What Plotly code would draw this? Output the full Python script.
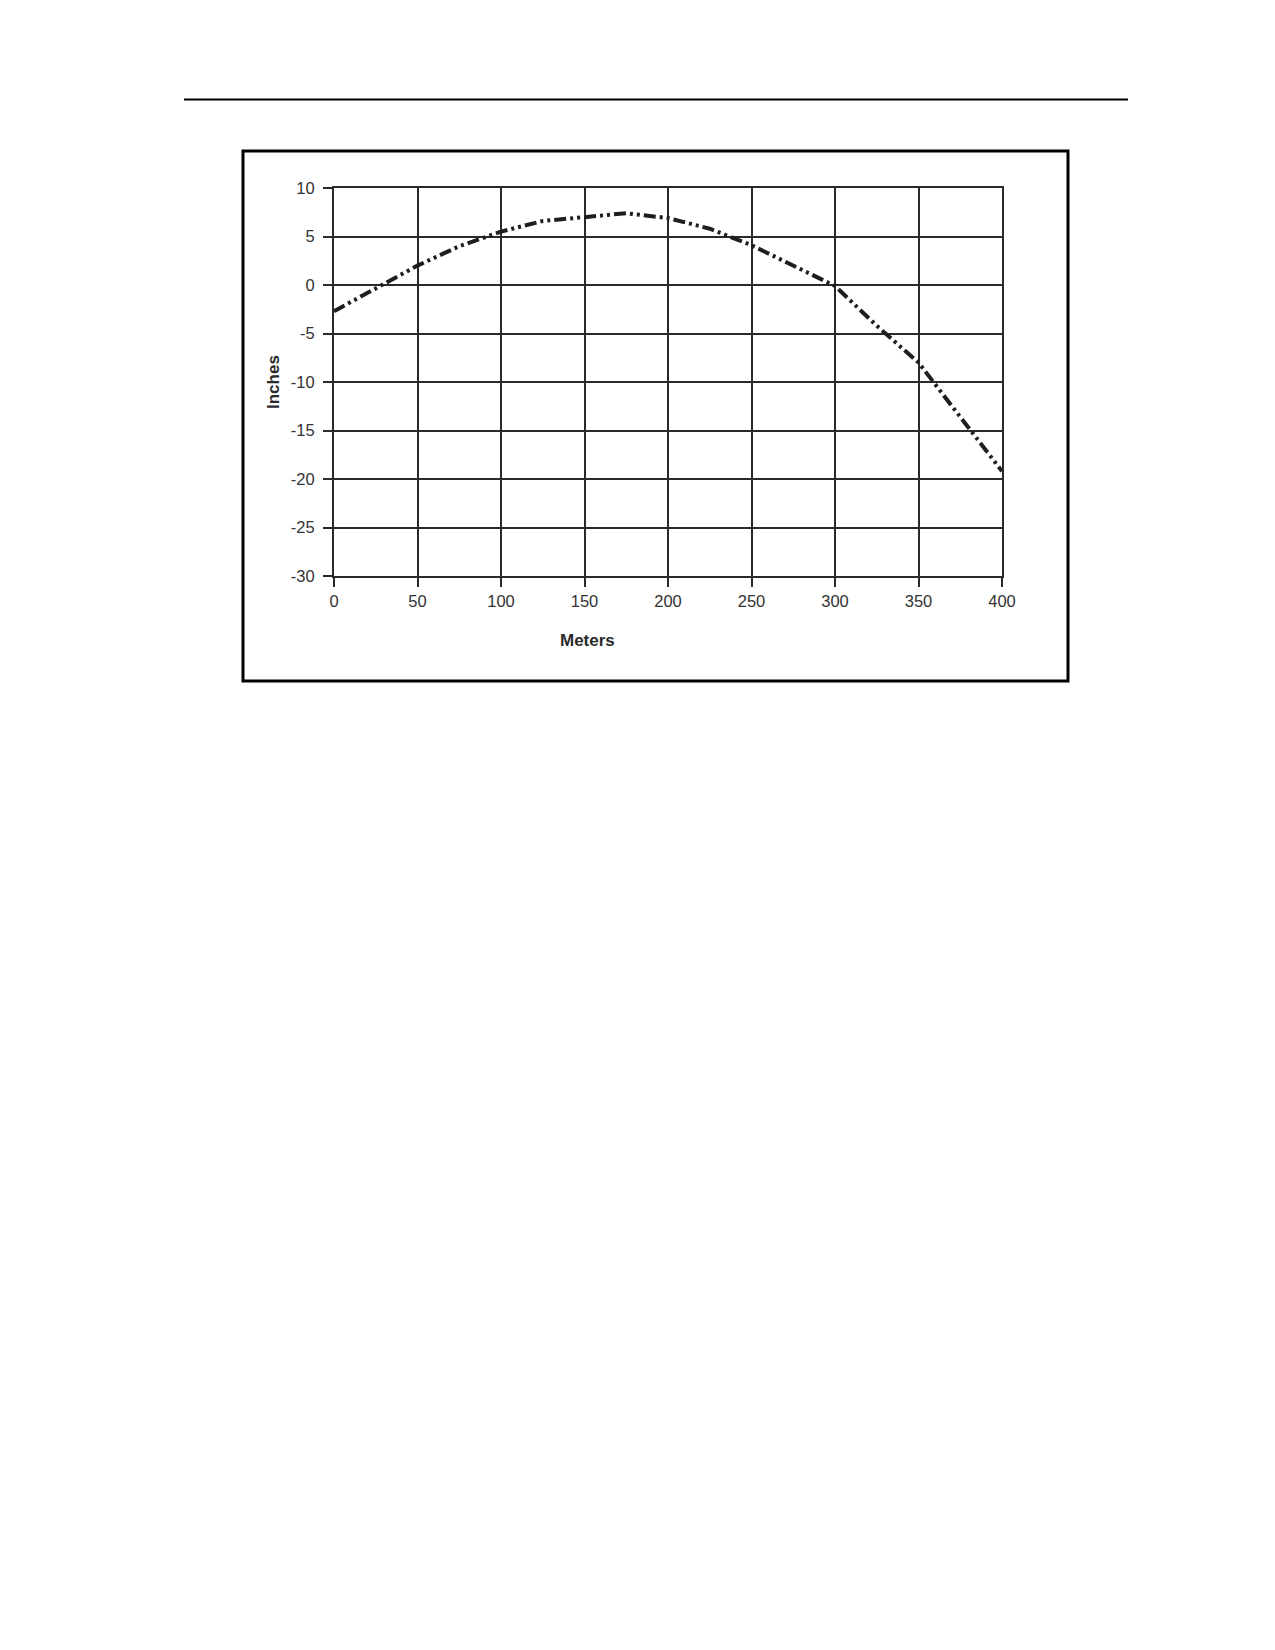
import plotly.graph_objects as go

# Data
meters = [0, 25, 50, 75, 100, 125, 150, 175, 200, 225, 250, 275, 300, 325, 350, 375, 400]
inches = [-2.7, -0.3, 2.0, 4.0, 5.5, 6.6, 7.0, 7.4, 6.9, 5.8, 4.1, 2.0, -0.1, -4.2, -8.0, -13.6, -19.2]
x_ticks = [0, 50, 100, 150, 200, 250, 300, 350, 400]
y_ticks = [10, 5, 0, -5, -10, -15, -20, -25, -30]

OFF = 8  # default HTML body margin
W, H = 1275 - 2 * OFF, 1650 - 2 * OFF
PL, PR, PT, PB = 334 - OFF, 1002 - OFF, 188 - OFF, 576 - OFF  # plot area in pixels


def px_x(p):
    return (p - OFF - PL) / (PR - PL)


def px_y(p):
    return (PB - (p - OFF)) / (PB - PT)


FONT = "Liberation Sans, Arial, sans-serif"
GRID = "#2a2a2a"

fig = go.Figure()
fig.add_trace(go.Scatter(
    x=meters, y=inches, mode="lines",
    line=dict(color="#1e1e1e", width=4, dash="12px,4px,3px,4px,3px,4px"),
    showlegend=False, hoverinfo="skip",
))

axis_common = dict(
    showgrid=True, gridcolor=GRID, gridwidth=2,
    showline=True, linecolor=GRID, linewidth=2, mirror=True,
    ticks="outside", ticklen=9, tickwidth=2, tickcolor=GRID,
    zeroline=False,
    tickfont=dict(family=FONT, size=16.5, color="#333333"),
)

fig.update_xaxes(range=[0, 400], tickvals=x_ticks, ticktext=[str(v) for v in x_ticks],
                 ticklabelstandoff=0, **axis_common)
fig.update_yaxes(range=[-30, 10], tickvals=y_ticks, ticktext=[str(v) for v in y_ticks],
                 ticklabelstandoff=5, **axis_common)

fig.update_layout(
    width=W, height=H, autosize=False,
    margin=dict(l=PL, r=W - PR, t=PT, b=H - PB, pad=0),
    plot_bgcolor="white", paper_bgcolor="white",
    shapes=[
        # outer frame
        dict(type="rect", xref="paper", yref="paper",
             x0=px_x(243), x1=px_x(1068), y0=px_y(681), y1=px_y(151),
             line=dict(color="black", width=3), fillcolor="rgba(0,0,0,0)", layer="below"),
        # page rule at top
        dict(type="line", xref="paper", yref="paper",
             x0=px_x(184), x1=px_x(1128), y0=px_y(99.5), y1=px_y(99.5),
             line=dict(color="black", width=2)),
    ],
    annotations=[
        dict(text="<b>Inches</b>", xref="paper", yref="paper",
             x=px_x(273), y=px_y(382), textangle=-90, showarrow=False,
             xanchor="center", yanchor="middle",
             font=dict(family=FONT, size=17, color="#2a2a2a")),
        dict(text="<b>Meters</b>", xref="paper", yref="paper",
             x=px_x(587), y=px_y(640), showarrow=False,
             xanchor="center", yanchor="middle",
             font=dict(family=FONT, size=17, color="#2a2a2a")),
    ],
)

fig.write_html("out.html")
